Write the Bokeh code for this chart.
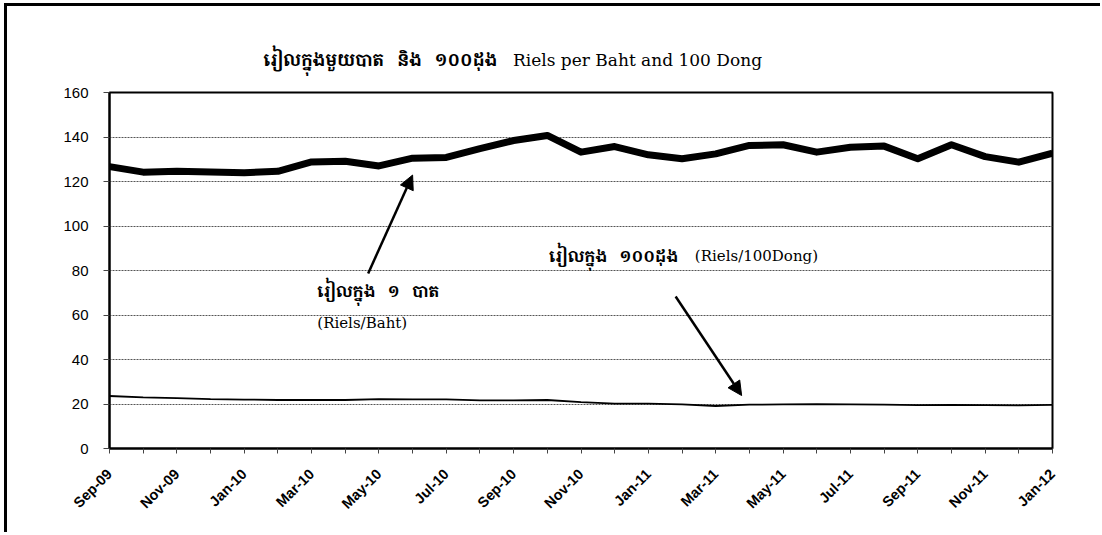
from math import pi
from bokeh.plotting import figure
from bokeh.layouts import column
from bokeh.models import Range1d, FixedTicker, Label, Arrow, NormalHead
from bokeh.embed import file_html
from bokeh.resources import INLINE

# ---------------- data ----------------
months = ["Sep-09", "Oct-09", "Nov-09", "Dec-09", "Jan-10", "Feb-10", "Mar-10", "Apr-10",
          "May-10", "Jun-10", "Jul-10", "Aug-10", "Sep-10", "Oct-10", "Nov-10", "Dec-10",
          "Jan-11", "Feb-11", "Mar-11", "Apr-11", "May-11", "Jun-11", "Jul-11", "Aug-11",
          "Sep-11", "Oct-11", "Nov-11", "Dec-11", "Jan-12"]
riels_per_baht = [126.7, 124.2, 124.6, 124.3, 123.9, 124.6, 128.8, 129.1, 127.0, 130.5,
                  130.8, 134.8, 138.4, 140.7, 133.2, 135.7, 132.0, 130.2, 132.4, 136.2,
                  136.5, 133.2, 135.4, 135.9, 130.2, 136.5, 131.2, 128.7, 132.7]
riels_per_100dong = [23.6, 23.0, 22.6, 22.2, 22.0, 21.8, 21.8, 21.8, 22.2, 22.1,
                     22.1, 21.6, 21.6, 21.8, 20.8, 20.2, 20.2, 19.8, 19.1, 19.7,
                     19.8, 19.9, 19.8, 19.7, 19.5, 19.6, 19.5, 19.4, 19.6]
y_ticks = [0, 20, 40, 60, 80, 100, 120, 140, 160]

NB = "\u00a0\u00a0\u00a0"
title_km = "រៀលក្នុងមួយបាត" + NB + "និង" + NB + "១០០ដុង"
title_en = "Riels per Baht and 100 Dong"
label_baht_km = "រៀលក្នុង" + NB + "១" + NB + "បាត"
label_baht_en = "(Riels/Baht)"
label_dong_km = "រៀលក្នុង" + NB + "១០០ដុង"
label_dong_en = "(Riels/100Dong)"

x = list(range(len(months)))

KHMER_FONT = "Noto Serif Khmer, Noto Sans Khmer, Khmer OS, serif"
SERIF = "DejaVu Serif"

FRAME_W = 943
ML, MR = 102, 48
TITLE_H = 70

# ---------------- title strip ----------------
t = figure(frame_width=FRAME_W, frame_height=TITLE_H,
           min_border_left=ML, min_border_right=MR, min_border_top=0, min_border_bottom=0,
           x_range=Range1d(0, len(months) - 1), y_range=Range1d(0, TITLE_H),
           output_backend="svg", toolbar_location=None)
t.axis.visible = False
t.grid.visible = False
t.outline_line_color = None
t.background_fill_color = "white"
t.border_fill_color = "white"
t.add_layout(Label(x=4.57, y=17, text=title_km, text_font=KHMER_FONT, text_font_style="bold",
                   text_font_size="17px", text_baseline="alphabetic", text_align="left",
                   text_color="black"))
t.add_layout(Label(x=11.98, y=17, text=title_en, text_font=SERIF,
                   text_font_size="17px", text_baseline="alphabetic", text_align="left",
                   text_color="black"))

# ---------------- main chart ----------------
p = figure(frame_width=FRAME_W, frame_height=356,
           min_border_left=ML, min_border_right=MR, min_border_top=16, min_border_bottom=84,
           x_range=Range1d(0, len(months) - 1), y_range=Range1d(0, 160),
           output_backend="svg", toolbar_location=None)

p.background_fill_color = "white"
p.border_fill_color = "white"
p.outline_line_color = "black"
p.outline_line_width = 2

p.xgrid.grid_line_color = None
p.ygrid.grid_line_color = "#555555"
p.ygrid.grid_line_dash = "2 1"
p.ygrid.grid_line_width = 1

p.yaxis.ticker = FixedTicker(ticks=y_ticks)
p.yaxis.axis_line_color = "black"
p.yaxis.axis_line_width = 2
p.yaxis.major_tick_out = 6
p.yaxis.major_tick_in = 0
p.yaxis.minor_tick_line_color = None
p.yaxis.major_tick_line_color = "#444444"
p.yaxis.major_label_text_font = "Liberation Sans"
p.yaxis.major_label_text_font_size = "15px"
p.yaxis.major_label_text_color = "black"
p.yaxis.major_label_standoff = 15

p.xaxis.ticker = FixedTicker(ticks=x)
p.xaxis.major_label_overrides = {i: (months[i] if i % 2 == 0 else "") for i in x}
p.xaxis.axis_line_color = "black"
p.xaxis.axis_line_width = 2
p.xaxis.major_tick_out = 5
p.xaxis.major_tick_in = 0
p.xaxis.minor_tick_line_color = None
p.xaxis.major_tick_line_color = "#444444"
p.xaxis.major_label_orientation = pi / 4
p.xaxis.major_label_text_font = "Liberation Sans"
p.xaxis.major_label_text_font_style = "bold"
p.xaxis.major_label_text_font_size = "14.5px"
p.xaxis.major_label_text_color = "black"
p.xaxis.major_label_standoff = 18

p.line(x, riels_per_baht, line_color="black", line_width=7, line_join="round")
p.line(x, riels_per_100dong, line_color="black", line_width=1.8)

p.add_layout(Label(x=6.17, y=71.0, text=label_baht_km, text_font=KHMER_FONT, text_font_style="bold",
                   text_font_size="16px", text_baseline="middle", text_align="left",
                   text_color="black"))
p.add_layout(Label(x=6.17, y=56.6, text=label_baht_en, text_font=SERIF,
                   text_font_size="15px", text_baseline="middle", text_align="left",
                   text_color="black"))
p.add_layout(Label(x=13.05, y=86.7, text=label_dong_km, text_font=KHMER_FONT, text_font_style="bold",
                   text_font_size="16px", text_baseline="middle", text_align="left",
                   text_color="black"))
p.add_layout(Label(x=17.38, y=86.7, text=label_dong_en, text_font=SERIF,
                   text_font_size="15px", text_baseline="middle", text_align="left",
                   text_color="black"))

p.add_layout(Arrow(end=NormalHead(size=14, fill_color="black", line_color="black"),
                   x_start=7.68, y_start=78.7, x_end=9.0, y_end=122.9,
                   line_width=2.5, line_color="black"))
p.add_layout(Arrow(end=NormalHead(size=14, fill_color="black", line_color="black"),
                   x_start=16.81, y_start=68.3, x_end=18.77, y_end=23.8,
                   line_width=2.5, line_color="black"))

layout = column(t, p, spacing=0)
layout.styles = {"border-top": "3px solid black", "border-left": "3px solid black",
                 "margin-top": "3px", "margin-left": "4px"}

open("out.html", "w").write(file_html(layout, INLINE))
